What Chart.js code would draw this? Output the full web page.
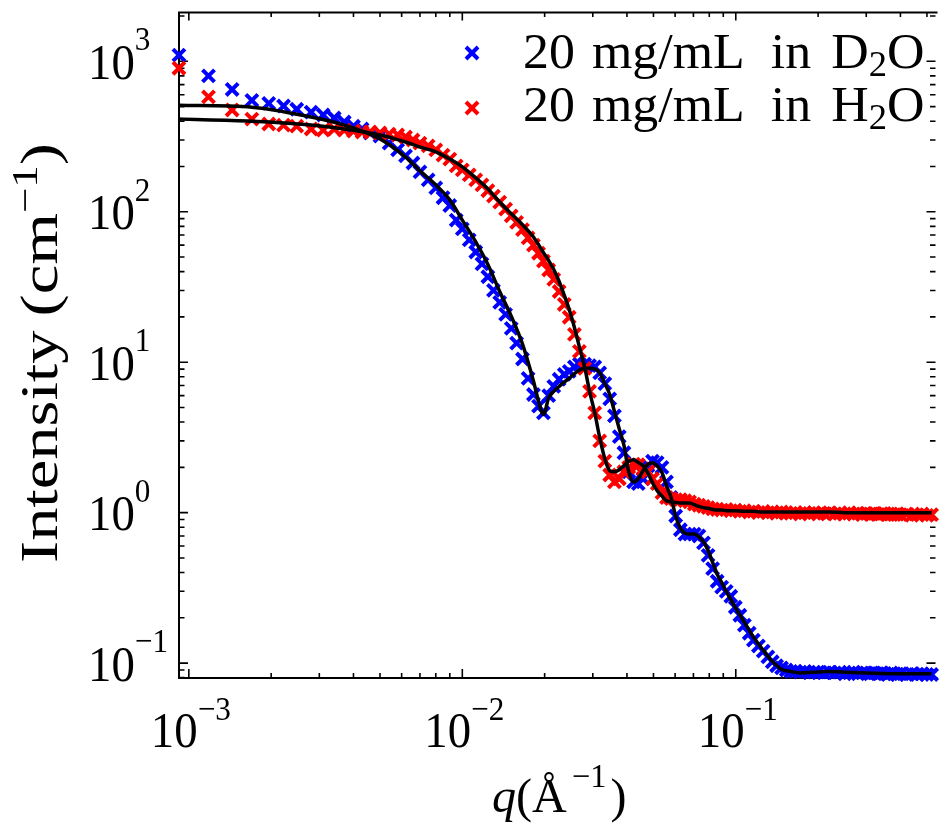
<!DOCTYPE html>
<html>
<head>
<meta charset="utf-8">
<script src="https://cdn.jsdelivr.net/npm/chart.js@4.4.1/dist/chart.umd.min.js"></script>
<style>
html,body{margin:0;padding:0;background:#fff;overflow:hidden;}
canvas{display:block;}
</style>
</head>
<body>
<canvas id="c" width="947" height="824"></canvas>
<script>
// ---------------- data ----------------
const q = [0.00092,0.00118,0.00144,0.0017,0.00196,0.00222,0.00248,0.0028,0.0031,0.0034,
0.0037,0.004,0.0043,0.0046,0.005,0.0054,0.0058,0.0062,0.0066,0.007,
0.0075,0.008,0.0085,0.009,0.0095,0.01,0.0106,0.0112,0.0118,0.0124,
0.013,0.0137,0.0144,0.0151,0.0158,0.0166,0.0174,0.0182,0.019,0.0198,
0.0207,0.0216,0.0226,0.0236,0.0246,0.0257,0.0268,0.028,0.0292,0.0305,
0.0318,0.0332,0.0346,0.036,0.0375,0.039,0.0406,0.0423,0.044,0.0458,
0.0477,0.0496,0.0516,0.0537,0.0558,0.058,0.0603,0.0627,0.0652,0.0678,
0.0705,0.0733,0.0762,0.0792,0.0823,0.0855,0.0888,0.0923,0.0959,0.0996,
0.1035,0.1075,0.112,0.116,0.121,0.126,0.131,0.136,0.141,0.147,
0.153,0.159,0.165,0.172,0.179,0.186,0.193,0.2,0.21,0.22,
0.23,0.24,0.25,0.26,0.27,0.28,0.29,0.3,0.31,0.32,
0.33,0.34,0.35,0.36,0.37,0.38,0.39,0.4,0.42,0.44,
0.46,0.48,0.5,0.52];

const intensityD2O = [1100,800,650,550,525,505,480,460,440,420,
395,370,355,334,318,286,258,235,211,184,
163,144,124,110,88,77,65,54,45,37,
30,25,20.8,16.8,13.4,10.5,7.8,6.1,5.1,4.6,
6.0,6.9,7.7,8.3,8.7,9.3,9.7,9.7,9.5,9.3,
8.5,7.2,5.7,4.4,3.2,2.5,1.87,1.6,1.56,1.68,
2.05,2.2,2.15,2.0,1.6,1.26,0.95,0.77,0.72,0.72,
0.72,0.70,0.63,0.52,0.425,0.35,0.32,0.30,0.278,0.235,
0.208,0.179,0.158,0.142,0.130,0.120,0.110,0.102,0.096,0.093,
0.090,0.088,0.088,0.087,0.088,0.086,0.087,0.087,0.086,0.087,
0.086,0.087,0.085,0.086,0.087,0.085,0.086,0.086,0.085,0.086,
0.085,0.086,0.085,0.084,0.086,0.085,0.084,0.085,0.084,0.085,
0.084,0.085,0.084,0.084];

const intensityH2O = [900,580,475,413,383,377,371,355,349,355,
349,344,339,339,334,328,324,314,300,286,
274,258,238,224,202,190,176,163,151,138,
127,116,104,94,85,76,67,60,53,47,
41,35.5,29.5,24.2,19.9,15.3,11.8,9.1,6.4,4.6,
3.0,2.2,1.78,1.6,1.68,1.87,2.0,2.1,2.08,1.95,
1.87,1.68,1.56,1.36,1.26,1.24,1.22,1.22,1.20,1.18,
1.14,1.12,1.10,1.08,1.06,1.05,1.04,1.05,1.03,1.04,
1.02,1.03,1.01,1.02,1.0,1.02,1.0,1.01,0.99,1.01,
1.0,0.99,1.0,0.98,1.0,0.99,1.0,0.98,0.99,1.0,
0.98,0.99,0.98,1.0,0.98,0.99,0.97,0.99,0.98,0.99,
0.97,0.98,0.99,0.97,0.98,0.97,0.98,0.97,0.98,0.96,
0.97,0.98,0.96,0.97];

const fitQ = [0.00092,0.0017,0.0028,0.0037,0.005,0.0062,0.007,0.008,0.009,0.01,
0.0112,0.0124,0.0137,0.0151,0.0166,0.0182,0.019,0.0198,0.0207,0.0216,
0.0226,0.0236,0.0246,0.0257,0.0268,0.028,0.0292,0.0305,0.0318,0.0332,
0.0346,0.036,0.0375,0.039,0.0406,0.0423,0.044,0.0458,0.0477,0.0496,
0.0516,0.0537,0.0558,0.058,0.0603,0.0627,0.0652,0.0678,0.0705,0.0733,
0.0762,0.0792,0.0823,0.0855,0.0888,0.0923,0.0996,0.1075,0.116,0.126,
0.136,0.147,0.159,0.172,0.193,0.22,0.25,0.3,0.4,0.52];

const fitD2O = [510,496,426,377,305,231,187,151,120,88,
63,44.6,29.5,20.2,13.2,7.5,5.5,4.5,5.8,6.4,
6.9,7.4,7.8,8.4,8.85,9.1,9.1,9.0,8.5,7.2,
6.1,4.7,3.6,2.8,1.87,1.6,1.68,1.9,2.1,2.15,
2.05,1.85,1.51,1.26,0.95,0.79,0.73,0.72,0.72,0.69,
0.64,0.56,0.467,0.39,0.344,0.30,0.235,0.187,0.149,0.122,
0.103,0.091,0.088,0.086,0.087,0.088,0.087,0.086,0.085,0.085];

const fitH2O = [413,400,377,355,324,291,269,250,224,199,
168,142,116,97,82,68,60.5,53.5,47.4,41.3,
34.4,27.8,22.4,17.0,12.6,9.3,6.4,4.6,3.15,2.28,
1.9,1.87,1.93,2.06,2.2,2.25,2.15,2.05,1.84,1.58,
1.4,1.29,1.2,1.18,1.17,1.16,1.16,1.16,1.13,1.10,
1.08,1.07,1.05,1.04,1.04,1.03,1.03,1.02,1.02,1.01,
1.01,1.01,1.01,1.01,1.01,1.01,1.0,1.0,1.0,1.0];

const seriesLabels = ['20 mg/mL in D₂O', '20 mg/mL in H₂O'];
const seriesColors = ['rgb(0,0,255)', 'rgb(255,0,0)'];
const xTickValues = [1e-3, 1e-2, 1e-1];
const xTickExponents = ['−3', '−2', '−1'];
const yTickValues = [1e-1, 1, 10, 100, 1000];
const yTickExponents = ['−1', '0', '1', '2', '3'];
const xTitle = ['q', '(Å', '−1', ')'];
const yTitle = ['Intensity', '(cm', '−1', ')'];

const X_MIN = 9.205e-4, X_MAX = 0.5329;
const Y_MIN = 0.0796, Y_MAX = 2111;

// ---------------- text helpers ----------------
const SERIF = '"Liberation Serif", "DejaVu Serif", "Times New Roman", serif';
function fontOf(p){ return (p.italic ? 'italic ' : '') + p.size + 'px ' + SERIF; }
function drawParts(ctx, parts, x, y, o){
  ctx.save();
  ctx.translate(x, y);
  if (o.rot) ctx.rotate(o.rot);
  ctx.fillStyle = '#000';
  ctx.textAlign = 'left';
  ctx.textBaseline = 'alphabetic';
  let sx = o.sx || 1;
  const sy = o.sy || 1;
  if (o.width){
    let nat = 0, gaps = 0;
    for (const p of parts){ ctx.font = fontOf(p); nat += ctx.measureText(p.t).width; gaps += (p.gap||0); }
    sx = (o.width - gaps) / nat;
  }
  let cx = 0;
  for (const p of parts){
    ctx.font = fontOf(p);
    const w = ctx.measureText(p.t).width;
    ctx.save();
    ctx.translate(cx, (p.dy||0) * sy);
    ctx.scale(sx, sy);
    ctx.fillText(p.t, 0, 0);
    ctx.restore();
    cx += w * sx + (p.gap||0);
  }
  ctx.restore();
}

function crossMark(ctx, x, y, r, color){
  const d = r * Math.SQRT1_2;
  ctx.save();
  ctx.strokeStyle = color;
  ctx.lineWidth = 4;
  ctx.beginPath();
  ctx.moveTo(x-d, y-d); ctx.lineTo(x+d, y+d);
  ctx.moveTo(x-d, y+d); ctx.lineTo(x+d, y-d);
  ctx.stroke();
  ctx.restore();
}

// ---------------- plugin: frame, ticks, labels, legend ----------------
const framePlugin = {
  id: 'frame',
  beforeDatasetsDraw(chart){
    const {ctx, chartArea: a} = chart;
    const xs = chart.scales.x, ys = chart.scales.y;
    ctx.save();
    ctx.strokeStyle = '#000';
    ctx.lineWidth = 2;
    ctx.beginPath();
    ctx.moveTo(a.right + 3, a.top); ctx.lineTo(a.left, a.top);
    ctx.lineTo(a.left, a.bottom); ctx.lineTo(a.right + 3, a.bottom);
    ctx.stroke();
    ctx.lineWidth = 1.6;
    ctx.beginPath();
    for (let e = -4; e <= 0; e++){
      for (let m = 1; m <= 9; m++){
        const v = m * Math.pow(10, e);
        if (v < xs.min || v > xs.max) continue;
        const px = xs.getPixelForValue(v);
        const major = m === 1;
        ctx.moveTo(px, a.bottom); ctx.lineTo(px, a.bottom - (major ? 9 : 5));
        ctx.moveTo(px, a.top); ctx.lineTo(px, a.top + (major ? 8 : 4.5));
      }
    }
    for (let e = -2; e <= 3; e++){
      for (let m = 1; m <= 9; m++){
        const v = m * Math.pow(10, e);
        if (v < ys.min || v > ys.max) continue;
        const py = ys.getPixelForValue(v);
        const major = m === 1;
        ctx.moveTo(a.left, py); ctx.lineTo(a.left + (major ? 9 : 5.5), py);
        ctx.moveTo(a.right + 1, py); ctx.lineTo(a.right + 1 - (major ? 9 : 5.5), py);
      }
    }
    ctx.stroke();
    ctx.restore();
  },
  afterDraw(chart){
    const {ctx} = chart;
    const xs = chart.scales.x, ys = chart.scales.y;
    yTickValues.forEach((v, i) => {
      const py = ys.getPixelForValue(v);
      drawParts(ctx, [{t:'10', size:45}, {t:yTickExponents[i], size:30, dy:-25}], 88, py + 17.5, {sx:1.04, sy:1.14});
    });
    xTickValues.forEach((v, i) => {
      const px = xs.getPixelForValue(v);
      drawParts(ctx, [{t:'10', size:45}, {t:xTickExponents[i], size:30, dy:-24}], px - 38, 747, {sx:1.04, sy:1.14});
    });
    drawParts(ctx, [
      {t:xTitle[0], size:43, italic:true},
      {t:xTitle[1], size:43, gap:5},
      {t:xTitle[2], size:29, dy:-22, gap:4},
      {t:xTitle[3], size:43}
    ], 492, 812, {sx:1.12, sy:1.14});
    drawParts(ctx, [
      {t:yTitle[0], size:53, gap:14},
      {t:yTitle[1], size:53},
      {t:yTitle[2], size:36, dy:-20},
      {t:yTitle[3], size:53}
    ], 57, 563, {rot:-Math.PI/2, width:420, sy:1});
    const baselines = [68, 121];
    const markerY = [53, 108];
    seriesLabels.forEach((lab, i) => {
      crossMark(ctx, 472, markerY[i], 8.5, seriesColors[i]);
      const [pre, post] = lab.split('₂');
      const words = pre.split(' ');
      const gaps = [17, 26, 20];
      const parts = words.map((w, k) => ({t:w, size:44, gap: k < gaps.length ? gaps[k] : 0}));
      parts.push({t:'2', size:31, dy:7});
      parts.push({t:post, size:44});
      drawParts(ctx, parts, 523, baselines[i], {sx:1.18, sy:1.14});
    });
  }
};

// ---------------- chart ----------------
const pts = (xs, ys) => xs.map((v, i) => ({x: v, y: ys[i]}));

new Chart(document.getElementById('c').getContext('2d'), {
  type: 'scatter',
  data: {
    datasets: [
      {label:'fit D2O', data: pts(fitQ, fitD2O), showLine:true, borderColor:'#000', backgroundColor:'#000',
       borderWidth:3.5, pointRadius:0, cubicInterpolationMode:'monotone', order:0},
      {label:'fit H2O', data: pts(fitQ, fitH2O), showLine:true, borderColor:'#000', backgroundColor:'#000',
       borderWidth:3.5, pointRadius:0, cubicInterpolationMode:'monotone', order:0},
      {label: seriesLabels[1], data: pts(q, intensityH2O), pointStyle:'crossRot', pointRadius:8.5,
       borderColor: seriesColors[1], backgroundColor: seriesColors[1], borderWidth:4, clip:false, order:1},
      {label: seriesLabels[0], data: pts(q, intensityD2O), pointStyle:'crossRot', pointRadius:8.5,
       borderColor: seriesColors[0], backgroundColor: seriesColors[0], borderWidth:4, clip:false, order:2}
    ]
  },
  options: {
    responsive: false,
    animation: false,
    events: [],
    layout: {padding: {left:179, top:10, right:0, bottom:146}},
    plugins: {legend: {display:false}, tooltip: {enabled:false}},
    scales: {
      x: {type:'logarithmic', display:false, min:X_MIN, max:X_MAX},
      y: {type:'logarithmic', display:false, min:Y_MIN, max:Y_MAX}
    }
  },
  plugins: [framePlugin]
});
</script>
</body>
</html>
